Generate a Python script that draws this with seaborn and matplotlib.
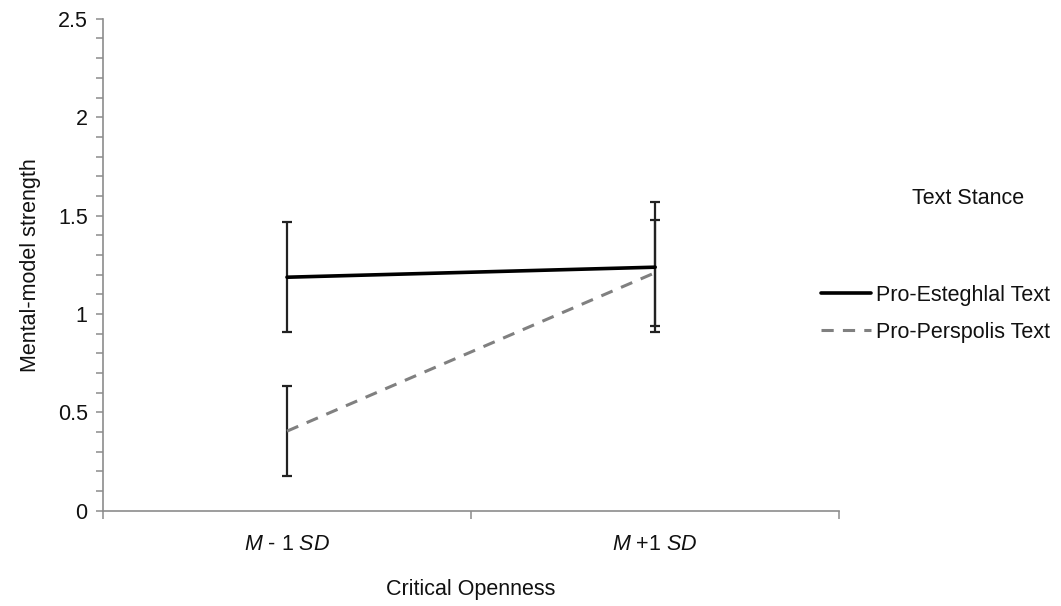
import numpy as np
import pandas as pd
import matplotlib
matplotlib.use('Agg')
import matplotlib.pyplot as plt
from matplotlib.lines import Line2D
from matplotlib.ticker import MultipleLocator
import seaborn as sns

# Data
levels = ['M - 1 SD', 'M +1 SD']
level_labels = [r'$\it{M}$ - 1 $\it{SD}$', r'$\it{M}$ +1 $\it{SD}$']
stances = ['Pro-Esteghlal Text', 'Pro-Perspolis Text']
esteghlal_mean = [1.187, 1.238]
esteghlal_err = [0.28, 0.33]
perspolis_mean = [0.405, 1.21]
perspolis_err = [0.23, 0.27]

df = pd.DataFrame({
    'level': levels * 2,
    'stance': [stances[0]] * 2 + [stances[1]] * 2,
    'strength': esteghlal_mean + perspolis_mean,
    'err': esteghlal_err + perspolis_err,
})

sns.set_style('white')
plt.rcParams['font.family'] = ['Liberation Sans', 'DejaVu Sans']
plt.rcParams['mathtext.fontset'] = 'custom'
plt.rcParams['mathtext.rm'] = 'Liberation Sans'
plt.rcParams['mathtext.it'] = 'Liberation Sans:italic'
plt.rcParams['text.color'] = '#111111'
plt.rcParams['xtick.color'] = '#111111'
plt.rcParams['ytick.color'] = '#111111'
plt.rcParams['axes.labelcolor'] = '#111111'

fig = plt.figure(figsize=(10.61, 6.06), dpi=100)
ax = fig.add_axes([0.097, 0.157, 0.694, 0.812])

colors = {stances[0]: '#000000', stances[1]: '#808080'}
sns.pointplot(data=df, x='level', y='strength', hue='stance', order=levels,
              palette=colors, linestyles=['-', '--'], markers='',
              errorbar=None, legend=False, ax=ax)
for ln, lw in zip(ax.lines, [2.6, 2.2]):
    ln.set_linewidth(lw)
ax.lines[1].set_dashes([4, 3])

# error bars
for st in stances:
    sub = df[df['stance'] == st]
    ax.errorbar([levels.index(l) for l in sub['level']], sub['strength'],
                yerr=sub['err'], fmt='none', ecolor='#222222',
                elinewidth=1.6, capsize=3.4, capthick=1.6, zorder=1)

ax.set_ylim(0, 2.5)
ax.set_xlim(-0.5, 1.5)
ax.yaxis.set_major_locator(MultipleLocator(0.5))
ax.yaxis.set_minor_locator(MultipleLocator(0.1))
ax.set_yticks([0, 0.5, 1, 1.5, 2, 2.5])
ax.set_yticklabels(['0', '0.5', '1', '1.5', '2', '2.5'])
ax.set_xticks([-0.5, 0.5, 1.5])
ax.set_xticklabels([])
ax.set_xticks([0, 1], minor=True)
ax.set_xticklabels(level_labels, minor=True)

for side in ['top', 'right']:
    ax.spines[side].set_visible(False)
for side in ['left', 'bottom']:
    ax.spines[side].set_color('#8c8c8c')
    ax.spines[side].set_linewidth(1.2)

ax.tick_params(axis='y', which='both', direction='out', length=5, width=1.1,
               color='#8c8c8c', labelsize=15.5, pad=6, left=True)
ax.tick_params(axis='x', which='major', direction='out', length=6, width=1.1,
               color='#8c8c8c', bottom=True)
ax.tick_params(axis='x', which='minor', length=0, labelsize=15.5, pad=17)

ax.set_xlabel('Critical Openness', fontsize=15.5, labelpad=17)
ax.set_ylabel('Mental-model strength', fontsize=15.5, labelpad=12)

handles = [Line2D([], [], color='#000000', lw=2.6),
           Line2D([], [], color='#808080', lw=2.2, dashes=[4, 3])]
fig.legend(handles, stances, loc='upper left', bbox_to_anchor=(0.756, 0.562),
           frameon=False, fontsize=15.5, handlelength=2.3, handletextpad=0.25,
           labelspacing=0.75)
fig.text(0.912, 0.673, 'Text Stance', fontsize=15.5, ha='center', va='center')

fig.savefig('out.png', dpi=100)
